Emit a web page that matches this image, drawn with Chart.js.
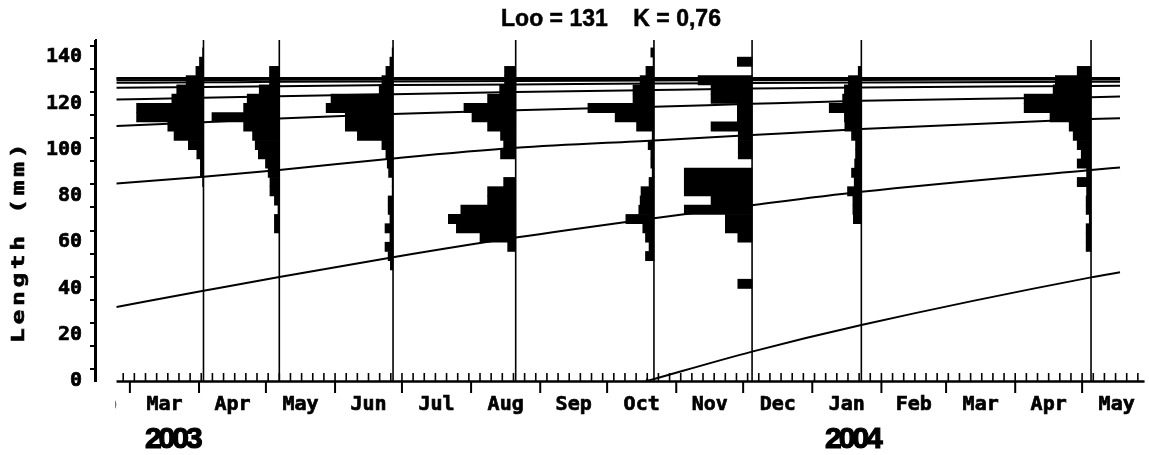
<!DOCTYPE html>
<html>
<head>
<meta charset="utf-8">
<title>Loo = 131  K = 0,76</title>
<script src="https://cdn.jsdelivr.net/npm/chart.js@4.4.1/dist/chart.umd.min.js"></script>
<style>
  html, body { margin: 0; padding: 0; background: #fff; }
  #wrap { width: 1149px; height: 455px; }
</style>
</head>
<body>
<div id="wrap"><canvas id="lfChart" width="1149" height="455"></canvas></div>
<script>
// Length classes (mid-points, mm) - 4 mm classes
const classMids = [38, 42, 46, 50, 54, 58, 62, 66, 70, 74, 78, 82, 86, 90, 94, 98, 102, 106, 110, 114, 118, 122, 126, 130, 134, 138, 142, 146];

// Sampling dates, one histogram per date
const sampleDates = ['2003-04-03', '2003-05-07', '2003-06-27', '2003-08-21', '2003-10-22', '2003-12-05', '2004-01-23', '2004-05-05'];

// Relative frequencies per class (same order as classMids)
const freqApr03 = [0, 0, 0, 0, 0, 0, 0, 0, 0, 0, 0, 0, 0.2, 0.7, 0.7, 1.5, 3.4, 6.6, 8.0, 15.0, 15.0, 7.1, 6.0, 3.9, 1.7, 0.9, 0.2, 0];
const freqMay03 = [0, 0, 0, 0, 0, 0, 0, 1.1, 1.1, 0.3, 1.1, 2.1, 2.1, 2.5, 3.1, 4.7, 5.4, 6.0, 8.0, 15.1, 8.0, 7.2, 4.5, 2.2, 2.2, 0, 0, 0];
const freqJun03 = [0, 0, 0, 0.6, 1.1, 1.8, 0.7, 1.8, 0.7, 1.1, 1.1, 0.2, 0.2, 1.0, 1.3, 1.6, 2.5, 8.0, 10.7, 10.7, 15.0, 13.9, 3.1, 2.5, 1.6, 0.7, 0.2, 0];
const freqAug03 = [0, 0, 0, 0, 0, 1.8, 8.0, 13.3, 15.1, 12.3, 6.3, 6.3, 2.7, 0, 0, 3.4, 2.7, 3.4, 6.3, 9.8, 11.6, 6.3, 3.6, 2.5, 2.5, 0, 0, 0];
const freqOct03 = [0, 0, 0, 0, 1.9, 1.1, 1.9, 2.5, 6.3, 3.4, 3.1, 2.9, 1.1, 0.4, 0.7, 0.7, 1.3, 0.4, 3.9, 8.7, 14.8, 4.7, 4.7, 3.1, 1.8, 0.2, 0.7, 0];
const freqDec03 = [0, 3.2, 0, 0, 0, 0, 3.2, 6.0, 6.0, 15.2, 9.2, 15.2, 15.2, 15.2, 0, 3.1, 3.1, 3.1, 9.2, 3.3, 3.3, 9.2, 9.2, 12.1, 0, 3.3, 0, 0];
const freqJan04 = [0, 0, 0, 0, 0, 0, 0, 0, 1.8, 1.9, 1.9, 3.1, 1.6, 2.2, 1.5, 1.3, 1.3, 2.2, 3.7, 3.8, 7.2, 4.2, 3.8, 2.9, 0.7, 0, 0, 0];
const freqMay04 = [0, 0, 0, 0, 0, 1.1, 1.1, 1.1, 0.4, 1.1, 1.1, 1.0, 3.1, 1.0, 3.1, 2.2, 3.1, 4.0, 4.9, 9.2, 15.0, 15.0, 8.5, 8.0, 3.1, 0, 0, 0];

// Growth curves (mm), read at these dates
const curveDates = ['2003-02-23', '2003-04-03', '2003-05-07', '2003-06-27', '2003-08-21', '2003-10-22', '2003-12-05', '2004-01-23', '2004-05-05', '2004-05-18'];
const cohort2002 = [32, 39, 45, 53.5, 62, 70.4, 76, 81.8, 91.2, 92.3];
const cohort2001 = [85.4, 88.3, 91.2, 96.2, 100.8, 104, 106.3, 108.9, 113.2, 113.6];
const cohort2000 = [110.2, 111.8, 113.5, 115.4, 117, 118.5, 119.8, 121.1, 122.7, 123];
const cohort1999 = [121.7, 122.4, 123.1, 124, 124.9, 125.8, 126.4, 126.9, 127.5, 127.6];
const cohort1998 = [126.8, 127.1, 127.4, 127.9, 128.2, 128.6, 128.8, 129, 129.3, 129.4];
const cohort1997 = [128.9, 129.1, 129.3, 129.5, 129.7, 129.9, 130, 130.1, 130.3, 130.3];
const cohort1996 = [130, 130.1, 130.2, 130.3, 130.4, 130.5, 130.5, 130.6, 130.7, 130.7];
const cohort1995 = [130.6, 130.6, 130.7, 130.7, 130.8, 130.8, 130.8, 130.9, 130.9, 130.9];
const cohort1994 = [131, 131, 131, 131, 131, 131, 131, 131, 131, 131];
// Newest cohort, starting in October 2003
const cohort2003Dates = ['2003-10-19', '2003-12-05', '2004-01-23', '2004-05-05', '2004-05-18'];
const cohort2003 = [0, 12.7, 24.2, 44.8, 47.0];

// Axis labels
const monthLabels = ['Feb', 'Mar', 'Apr', 'May', 'Jun', 'Jul', 'Aug', 'Sep', 'Oct', 'Nov', 'Dec', 'Jan', 'Feb', 'Mar', 'Apr', 'May'];
const yearLabels = ['2003', '2004'];
const yearLabelDates = ['2003-03-20', '2004-01-19'];

// Layout / style constants
const DAY0 = '2003-03-01';
const AXIS_START = '2003-02-23';
const AXIS_END = '2004-05-29';
const MINOR_TICK_START = '2003-02-26';
const X_MIN = -15.2;
const X_MAX = 455.2;
const Y_MAX = 147.4;
const FREQ_DAYS = 2;   // days of x-axis per frequency unit
const MONO = '"DejaVu Sans Mono", "Liberation Mono", monospace';
const SANS = '"Liberation Sans", Arial, sans-serif';

const toDay = s => (Date.parse(s) - Date.parse(DAY0)) / 864e5;

const sampleFreqs = [freqApr03, freqMay03, freqJun03, freqAug03, freqOct03, freqDec03, freqJan04, freqMay04];

// Histograms: horizontal floating bars ending at the sample date
const histSets = sampleFreqs.map((freqs, i) => {
    const d = toDay(sampleDates[i]);
    return {
        type: 'bar',
        indexAxis: 'y',
        grouped: false,
        data: classMids
            .map((m, k) => ({ y: m, x: [d - freqs[k] * FREQ_DAYS, d] }))
            .filter((p, k) => freqs[k] > 0),
        backgroundColor: '#000',
        borderWidth: 0,
        barPercentage: 1,
        categoryPercentage: 1
    };
});

// Vertical lines at each sample date
const sampleLineSets = sampleDates.map(s => ({
    type: 'line',
    data: [{ x: toDay(s), y: 0 }, { x: toDay(s), y: Y_MAX }],
    borderColor: '#000',
    borderWidth: 1.6,
    pointRadius: 0
}));

function curveSet(dates, values, extra) {
    return Object.assign({
        type: 'line',
        data: dates.map((s, i) => ({ x: toDay(s), y: values[i] })),
        borderColor: '#000',
        borderWidth: 2,
        pointRadius: 0,
        cubicInterpolationMode: 'monotone',
        fill: false
    }, extra || {});
}

const curveSets = [cohort2002, cohort2001, cohort2000, cohort1999, cohort1998, cohort1997, cohort1996, cohort1995, cohort1994]
    .map(v => curveSet(curveDates, v));
curveSets.push(curveSet(cohort2003Dates, cohort2003, {
    pointRadius: [3.5, 0, 0, 0, 0],
    pointStyle: 'triangle',
    pointBackgroundColor: '#000',
    pointBorderWidth: 0
}));

// bold text with a thin outline, to get the heavy look of the original
function heavyText(ctx, text, x, y, w) {
    ctx.lineWidth = w;
    ctx.strokeText(text, x, y);
    ctx.fillText(text, x, y);
}

// Custom x axis (months), titles and year labels
const decorations = {
    id: 'decorations',
    afterDraw(chart) {
        const { ctx, chartArea, scales: { x, y } } = chart;
        const base = y.getPixelForValue(0);
        const dStart = toDay(AXIS_START);
        const dEnd = toDay(AXIS_END);
        const xs = x.getPixelForValue(dStart);
        const xe = x.getPixelForValue(dEnd);
        ctx.save();
        ctx.strokeStyle = '#000';
        ctx.fillStyle = '#000';

        // y axis line
        ctx.lineWidth = 2;
        ctx.beginPath();
        ctx.moveTo(chartArea.left - 1, chartArea.top);
        ctx.lineTo(chartArea.left - 1, base + 1);
        ctx.stroke();

        // x axis line
        ctx.lineWidth = 2.5;
        ctx.beginPath();
        ctx.moveTo(xs, base + 0.5);
        ctx.lineTo(xe, base + 0.5);
        ctx.stroke();

        // minor ticks every 5 days, pointing up
        ctx.lineWidth = 1.6;
        for (let d = toDay(MINOR_TICK_START); d <= dEnd; d += 5) {
            const px = x.getPixelForValue(d);
            ctx.beginPath();
            ctx.moveTo(px, base);
            ctx.lineTo(px, base - 8);
            ctx.stroke();
        }

        // month starts (ticks down) and month labels
        const day0 = Date.parse(DAY0);
        ctx.save();
        ctx.beginPath();
        ctx.rect(xs - 1, base, chart.width, chart.height - base);
        ctx.clip();
        ctx.font = 'bold 20px ' + MONO;
        ctx.textAlign = 'center';
        ctx.textBaseline = 'alphabetic';
        monthLabels.forEach((lab, i) => {
            const a = (Date.UTC(2003, 1 + i, 1) - day0) / 864e5;
            const b = (Date.UTC(2003, 2 + i, 1) - day0) / 864e5;
            if (a >= dStart && a <= dEnd) {
                const px = x.getPixelForValue(a);
                ctx.lineWidth = 2;
                ctx.beginPath();
                ctx.moveTo(px, base);
                ctx.lineTo(px, base + 12);
                ctx.stroke();
            }
            heavyText(ctx, lab, x.getPixelForValue((a + b) / 2), 410, 0.7);
        });
        ctx.restore();

        // year labels
        ctx.font = 'bold 30px ' + SANS;
        ctx.letterSpacing = '-3px';
        ctx.textAlign = 'left';
        yearLabels.forEach((lab, i) => {
            const w = ctx.measureText(lab).width;
            heavyText(ctx, lab, x.getPixelForValue(toDay(yearLabelDates[i])) - w / 2, 448, 1.2);
        });

        // title
        ctx.letterSpacing = '0px';
        ctx.font = 'bold 23px ' + SANS;
        ctx.textAlign = 'center';
        heavyText(ctx, 'Loo = 131    K = 0,76', 611, 26, 0.5);

        // y axis title (wide letters, as in the original bitmap font)
        ctx.font = 'bold 17px ' + MONO;
        ctx.letterSpacing = '2.5px';
        ctx.textAlign = 'left';
        ctx.translate(23.5, 343);
        ctx.rotate(-Math.PI / 2);
        ctx.scale(1.45, 1);
        heavyText(ctx, 'Length (mm)', 0, 0, 0.6);
        ctx.restore();
    }
};

new Chart(document.getElementById('lfChart'), {
    type: 'bar',
    data: {
        datasets: [...curveSets, ...sampleLineSets, ...histSets]
    },
    options: {
        responsive: false,
        animation: false,
        devicePixelRatio: 1,
        events: [],
        layout: { padding: { top: 40, bottom: 74, left: 0, right: 1 } },
        plugins: {
            legend: { display: false },
            tooltip: { enabled: false }
        },
        scales: {
            x: {
                type: 'linear',
                min: X_MIN,
                max: X_MAX,
                offset: false,
                display: false
            },
            y: {
                type: 'linear',
                min: 0,
                max: Y_MAX,
                offset: false,
                afterFit: scale => { scale.width = 96; },
                ticks: {
                    stepSize: 10,
                    includeBounds: false,
                    autoSkip: false,
                    padding: 8,
                    color: '#000',
                    textStrokeColor: '#000',
                    textStrokeWidth: 0.7,
                    font: { family: MONO, size: 20, weight: 'bold' },
                    callback: v => (v % 20 === 0 ? String(v) : '')
                },
                grid: {
                    display: true,
                    drawOnChartArea: false,
                    drawTicks: true,
                    tickLength: 6,
                    color: '#000',
                    lineWidth: 2
                },
                border: { display: true, color: '#000', width: 2 }
            }
        }
    },
    plugins: [decorations]
});
</script>
</body>
</html>
